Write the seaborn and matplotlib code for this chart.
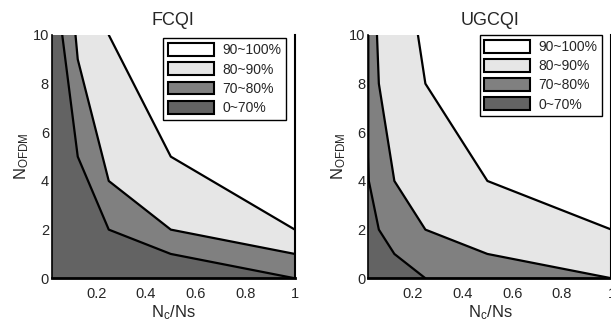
import numpy as np
import pandas as pd
import matplotlib
matplotlib.use("Agg")
import matplotlib.pyplot as plt
import seaborn as sns
from matplotlib.patches import Patch

# DATA: contour boundaries (x = Nc/Ns, y = N_OFDM)
x_min = 0.02
titles = ["FCQI", "UGCQI"]
levels = ["0~70%", "70~80%", "80~90%", "90~100%"]
shades = ["#636363", "#808080", "#e6e6e6", "#ffffff"]

# FCQI
fc_b1_x = [0.0625, 0.125, 0.25, 0.5, 1.0]
fc_b1_y = [10, 5, 2, 1, 0]
fc_b2_x = [0.116, 0.125, 0.25, 0.5, 1.0]
fc_b2_y = [10, 9, 4, 2, 1]
fc_b3_x = [0.25, 0.5, 1.0]
fc_b3_y = [10, 5, 2]

# UGCQI
ug_b1_x = [0.02, 0.02, 0.022, 0.0625, 0.125, 0.25]
ug_b1_y = [10, 5, 4, 2, 1, 0]
ug_b2_x = [0.055, 0.0625, 0.125, 0.25, 0.5, 1.0]
ug_b2_y = [10, 8, 4, 2, 1, 0]
ug_b3_x = [0.22, 0.25, 0.5, 1.0]
ug_b3_y = [10, 8, 4, 2]

x_ticks = [0.2, 0.4, 0.6, 0.8, 1]
x_ticklabels = ["0.2", "0.4", "0.6", "0.8", "1"]
y_ticks = [0, 2, 4, 6, 8, 10]

sns.set_style("white")
plt.rcParams["font.family"] = ["Liberation Sans", "DejaVu Sans"]
plt.rcParams["mathtext.default"] = "regular"

fig = plt.figure(figsize=(6.11, 3.27), dpi=100)
ax1 = fig.add_axes([0.0846, 0.149, 0.398, 0.744])
ax2 = fig.add_axes([0.6028, 0.149, 0.398, 0.744])

panels = [
    (ax1, [(fc_b1_x, fc_b1_y), (fc_b2_x, fc_b2_y), (fc_b3_x, fc_b3_y)], (0.963, 0.986)),
    (ax2, [(ug_b1_x, ug_b1_y), (ug_b2_x, ug_b2_y), (ug_b3_x, ug_b3_y)], (0.963, 1.0)),
]

for i, (ax, bounds, anchor) in enumerate(panels):
    ax.set_facecolor(shades[3])
    # fill below each boundary, from the top level down
    for k in [2, 1, 0]:
        bx, by = bounds[k]
        px = list(bx) + [1.0, x_min, x_min]
        py = list(by) + [0, 0, 10]
        ax.fill(px, py, color=shades[k], lw=0, zorder=1 + (2 - k))
    for bx, by in bounds:
        line_df = pd.DataFrame({"x": bx, "y": by})
        sns.lineplot(data=line_df, x="x", y="y", sort=False, estimator=None,
                     color="black", lw=1.6, ax=ax, zorder=5)

    ax.set_xlim(x_min, 1)
    ax.set_ylim(0, 10)
    ax.set_xticks(x_ticks)
    ax.set_xticklabels(x_ticklabels)
    ax.set_yticks(y_ticks)
    ax.tick_params(axis="x", length=0, pad=6, labelsize=10.5)
    ax.tick_params(axis="y", length=0, pad=2, labelsize=10.5)
    ax.set_xlabel(r"N$_c$/Ns", fontsize=12, labelpad=2)
    ax.set_ylabel(r"N$_{OFDM}$", fontsize=12, labelpad=1)
    ax.set_title(titles[i], fontsize=13, pad=7)

    ax.spines["top"].set_visible(False)
    ax.spines["bottom"].set_linewidth(2.0)
    ax.spines["left"].set_linewidth(1.2)
    ax.spines["right"].set_linewidth(1.5)
    for s in ax.spines.values():
        s.set_color("black")
        s.set_zorder(6)

    handles = [Patch(facecolor=shades[k], edgecolor="black", lw=1.5, label=levels[k])
               for k in [3, 2, 1, 0]]
    leg = ax.legend(handles=handles, loc="upper right", bbox_to_anchor=anchor,
                    fontsize=10, frameon=True, fancybox=False, framealpha=1,
                    edgecolor="black", handlelength=3.3, handleheight=1.05,
                    labelspacing=0.36, borderpad=0.35, handletextpad=0.6,
                    borderaxespad=0)
    leg.get_frame().set_linewidth(1.0)
    leg.set_zorder(10)

fig.savefig("out.png", dpi=100)
